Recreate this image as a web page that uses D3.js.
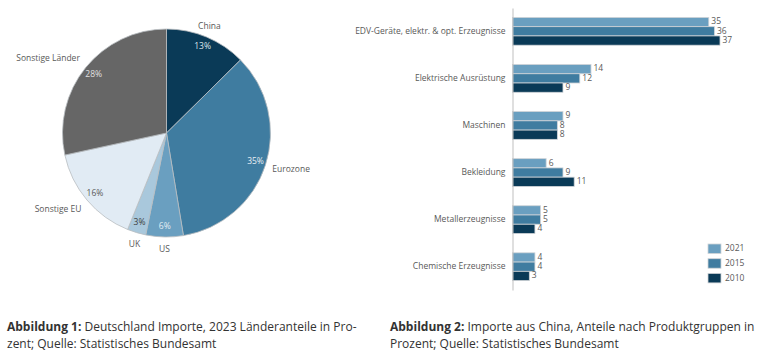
<!DOCTYPE html>
<html><head><meta charset="utf-8">
<script src="https://cdn.jsdelivr.net/npm/d3@7"></script>
<style>
html,body{margin:0;padding:0;background:#fff;}
svg{display:block;font-family:"Open Sans","Noto Sans",sans-serif;}
</style></head>
<body>
<svg id="c" width="768" height="361"></svg>
<script>
// Pie data (Abbildung 1)
const pieCategories = ["China","Eurozone","US","UK","Sonstige EU","Sonstige Länder"];
const pieValues = [12.6, 34.8, 5.8, 2.9, 15.5, 28.4];
const pieLabels = ["13%","35%","6%","3%","16%","28%"];
const pieColors = ["#0a3a57","#3f7ca0","#6a9fc0","#a9c8dc","#e1ebf4","#666666"];
const pieLabelColors = ["#dfe6ec","#e8eef3","#e4edf4","#404040","#595959","#e0e0e0"];

// Bar data (Abbildung 2)
const barCategories = ["EDV-Geräte, elektr. & opt. Erzeugnisse","Elektrische Ausrüstung","Maschinen","Bekleidung","Metallerzeugnisse","Chemische Erzeugnisse"];
const years = ["2021","2015","2010"];
const values2021 = [35,14,9,6,5,4];
const values2015 = [36,12,8,9,5,4];
const values2010 = [37,9,8,11,4,3];
const yearColors = ["#6a9fc0","#3f7ca0","#0a3a57"];

const svg = d3.select("#c");
const textColor = "#595959";
const fs = 8.5;

// ---------- Pie ----------
const cx = 166.5, cy = 133, R = 104;
const pie = d3.pie().sort(null).value(d => d)(pieValues);
const arc = d3.arc().innerRadius(0).outerRadius(R);
const gp = svg.append("g").attr("transform", `translate(${cx},${cy})`);
gp.selectAll("path").data(pie).join("path")
  .attr("d", arc)
  .attr("fill", (d,i) => pieColors[i])
  .attr("stroke", "#b8bcc0")
  .attr("stroke-width", 0.8);

const mid = d => (d.startAngle + d.endAngle) / 2;
gp.selectAll("text.pct").data(pie).join("text")
  .attr("class","pct")
  .attr("x", d => Math.sin(mid(d)) * R * 0.9)
  .attr("y", d => -Math.cos(mid(d)) * R * 0.9)
  .attr("text-anchor","middle")
  .attr("dominant-baseline","middle")
  .attr("font-size", fs)
  .attr("fill", (d,i) => pieLabelColors[i])
  .text((d,i) => pieLabels[i]);

gp.selectAll("text.name").data(pie).join("text")
  .attr("class","name")
  .attr("x", d => Math.sin(mid(d)) * R * 1.07)
  .attr("y", d => -Math.cos(mid(d)) * R * 1.07 + (Math.cos(mid(d)) > 0.6 ? -4 : Math.cos(mid(d)) < -0.6 ? 5 : 2))
  .attr("text-anchor", d => { const s = Math.sin(mid(d)); return Math.abs(s) < 0.5 ? "middle" : (s > 0 ? "start" : "end"); })
  .attr("dominant-baseline","middle")
  .attr("font-size", fs)
  .attr("fill", textColor)
  .text((d,i) => pieCategories[i]);

// ---------- Bars ----------
const x0 = 512.5;
const x = d3.scaleLinear().domain([0, 37]).range([x0, 720]);
const y = d3.scaleBand().domain(barCategories).range([8, 290]).paddingInner(0.41).paddingOuter(0.2);
const yInner = d3.scaleBand().domain(years).range([0, y.bandwidth()]);
const series = [values2021, values2015, values2010];

const gb = svg.append("g");
barCategories.forEach((cat, ci) => {
  const g = gb.append("g").attr("transform", `translate(0,${y(cat)})`);
  years.forEach((yr, yi) => {
    const v = series[yi][ci];
    g.append("rect")
      .attr("x", x(0))
      .attr("y", yInner(yr))
      .attr("width", x(v) - x(0))
      .attr("height", yInner.bandwidth())
      .attr("fill", yearColors[yi])
      .attr("stroke", "#d0d4d8")
      .attr("stroke-width", 0.8);
    g.append("text")
      .attr("x", x(v) + 2.5)
      .attr("y", yInner(yr) + yInner.bandwidth() / 2)
      .attr("dominant-baseline","middle")
      .attr("font-size", fs)
      .attr("fill", textColor)
      .text(v);
  });
});

const yAxis = d3.axisLeft(y).tickSize(0).tickPadding(7);
const ga = svg.append("g").attr("transform", `translate(${x0},0)`).call(yAxis);
ga.select(".domain").attr("stroke", "#bfbfbf").attr("stroke-width", 1);
ga.selectAll("text").attr("font-size", fs).attr("fill", textColor).attr("font-family", "Open Sans, Noto Sans, sans-serif");

// Legend
const lg = svg.append("g").attr("transform","translate(708,244)");
years.forEach((yr, i) => {
  lg.append("rect").attr("x",0).attr("y", i*14.7).attr("width",13).attr("height",9.5)
    .attr("fill", yearColors[i]).attr("stroke","#d0d4d8").attr("stroke-width",0.8);
  lg.append("text").attr("x",17).attr("y", i*14.7 + 5).attr("dominant-baseline","middle")
    .attr("font-size", fs).attr("fill", textColor).text(yr);
});

// Captions
function caption(xp, bold, lines) {
  const t = svg.append("text").attr("x", xp).attr("y", 331).attr("font-size", 12).attr("fill", "#333");
  const t1 = t.append("tspan").attr("x", xp);
  t1.append("tspan").attr("font-weight","bold").text(bold);
  t1.append("tspan").text(" " + lines[0]);
  t.append("tspan").attr("x", xp).attr("dy", 17).text(lines[1]);
}
caption(7, "Abbildung 1:", ["Deutschland Importe, 2023 Länderanteile in Pro-", "zent; Quelle: Statistisches Bundesamt"]);
caption(390, "Abbildung 2:", ["Importe aus China, Anteile nach Produktgruppen in", "Prozent; Quelle: Statistisches Bundesamt"]);
</script>
</body></html>
